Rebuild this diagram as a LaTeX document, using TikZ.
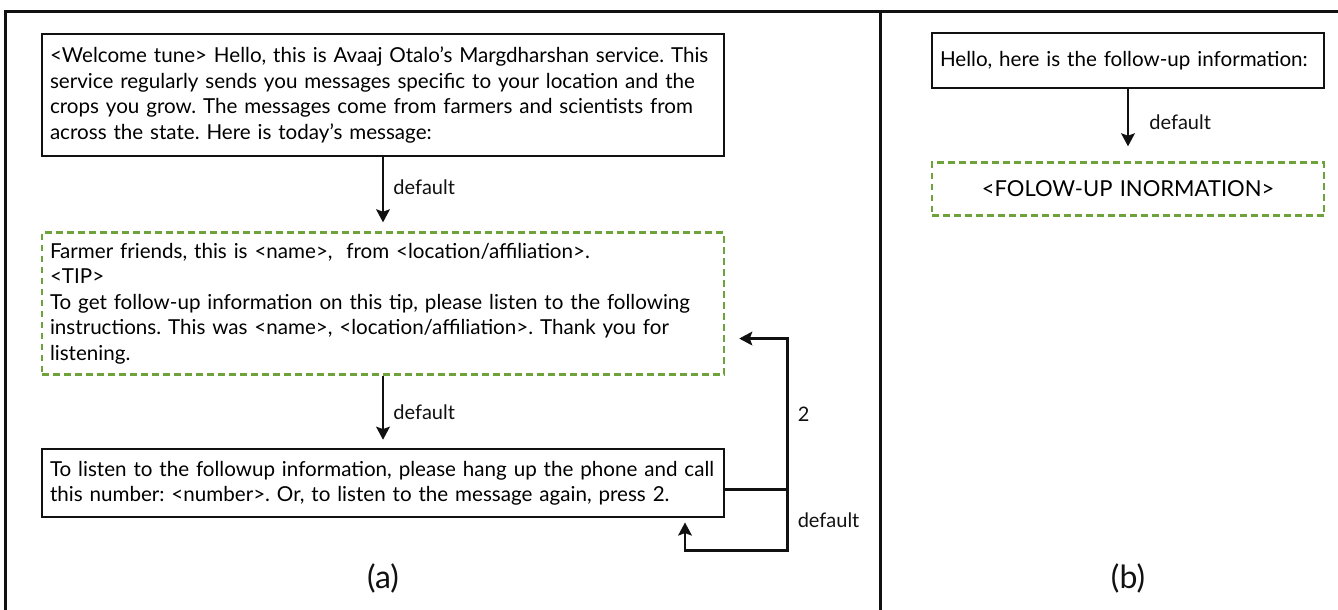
\documentclass[tikz,border=0pt]{standalone}
\usepackage{fontspec}
\setmainfont{Lato}
\usetikzlibrary{arrows.meta,positioning,calc}
\definecolor{ink}{HTML}{111111}
\definecolor{leaf}{HTML}{6EA33C}
\frenchspacing
\tikzset{
  msg/.style={draw=ink, line width=1.35pt, fill=white, align=left, text width=333pt,
              font=\fontsize{10.3}{12.7}\selectfont, inner xsep=4pt, inner ysep=3pt},
  tipbox/.style={msg, draw=leaf, line width=1.2pt, dash pattern=on 3.3pt off 2.2pt},
  arr/.style={-{Stealth[length=6.5pt,width=6.8pt,inset=1.2pt]}, line width=1.4pt, draw=ink},
  lbl/.style={font=\fontsize{10}{12}\selectfont, text=ink, inner sep=1pt},
  frame/.style={line width=1.5pt, draw=ink},
  panel/.style={font=\fontsize{16}{18}\selectfont, text=ink},
}
\begin{document}
\begin{tikzpicture}[x=0.5pt, y=-0.5pt]
  \useasboundingbox (0,0) rectangle (1338,610);
  \draw[frame] (5,610) -- (5,12) -- (1338,12);
  \draw[frame] (880,12) -- (880,610);
  % (a) message flow
  \node[msg, minimum height=61pt] (welcome) at (383,95) {<Welcome tune> Hello, this is Avaaj Otalo’s Margdharshan service. This\\
    service regularly sends you messages specific to your location and the\\
    crops you grow. The messages come from farmers and scientists from\\
    across the state. Here is today's message:};
  \node[tipbox, minimum height=71pt, below=37pt of welcome] (tip) {Farmer friends, this is <name>,~ from <location/affiliation>.\\
    <TIP>\\
    To get follow-up information on this tip, please listen to the following\\
    instructions. This was <name>, <location/affiliation>. Thank you for\\
    listening.};
  \node[msg, minimum height=34pt, below=36pt of tip] (hangup) {To listen to the followup information, please hang up the phone and call\\
    this number: <number>. Or, to listen to the message again, press 2.};
  \draw[arr, shorten >=4.5pt] (welcome) -- node[lbl, pos=0.4, right=3.5pt] {default} (tip);
  \draw[arr, shorten >=4pt] (tip) -- node[lbl, pos=0.5, right=3.5pt] {default} (hangup);
  \coordinate (bend) at ($(hangup.east)+(31pt,-3pt)$);
  \coordinate (back) at ($(tip.east)+(7pt,-17.5pt)$);
  \coordinate (under) at ($(hangup.south)+(151pt,-16pt)$);
  \draw[arr] ([yshift=-3pt]hangup.east) -- (bend) |- node[lbl, pos=0.25, right=3.5pt] {2} (back);
  \draw[arr, shorten >=2pt] (bend) |- node[lbl, pos=0.25, right=3.5pt] {default} (under) -- (hangup.south -| under);
  \node[panel] (capa) at (383,578) {(a)};
  % (b) follow-up call
  \node[msg, text width=188pt, minimum height=27.5pt] (hello) at (1128,60.5) {Hello, here is the follow-up information:};
  \node[tipbox, text width=188pt, align=center, minimum height=26.5pt, font=\fontsize{11}{13}\selectfont, below=36pt of hello] (info) {<FOLOW-UP INORMATION>};
  \draw[arr, shorten >=7.5pt] (hello) -- node[lbl, pos=0.45, right=9pt] {default} (info);
  \node[panel] (capb) at (1128,578) {(b)};
\end{tikzpicture}
\end{document}
